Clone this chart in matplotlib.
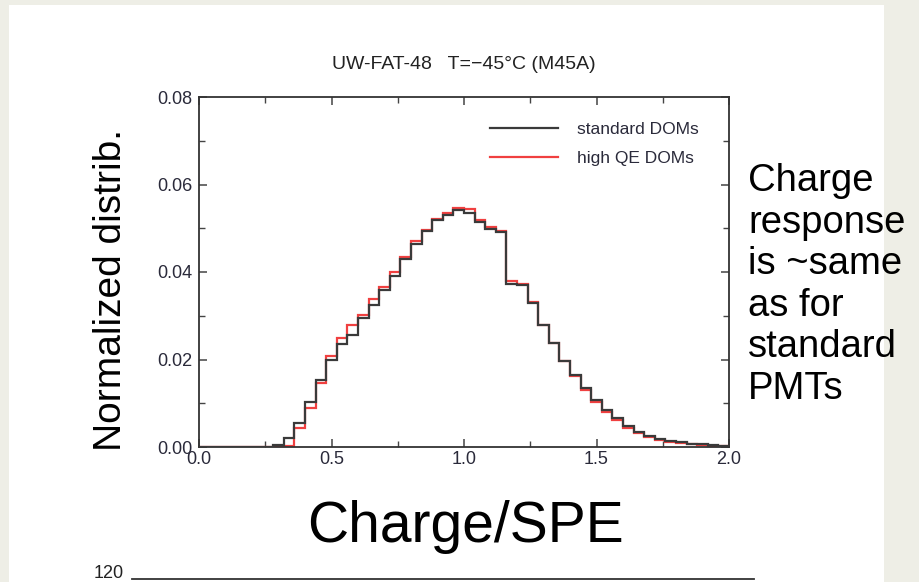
import numpy as np
import matplotlib
matplotlib.use('Agg')
import matplotlib.pyplot as plt
from matplotlib.patches import Rectangle
from matplotlib.lines import Line2D

plt.rcParams['font.family'] = ['Liberation Sans', 'DejaVu Sans']

# bin edges 0..2 in steps of 0.04
bin_edges = np.round(np.arange(0, 2.0001, 0.04), 2)

# standard DOMs (black)
standard = [0, 0, 0, 0, 0, 0, 0, 0.0005, 0.0020, 0.0054,
            0.0104, 0.0153, 0.0199, 0.0236, 0.0256, 0.0295, 0.0325, 0.0358, 0.0392, 0.0430,
            0.0465, 0.0493, 0.0518, 0.0531, 0.0541, 0.0536, 0.0515, 0.0498, 0.0492, 0.0373,
            0.0370, 0.0329, 0.0279, 0.0238, 0.0197, 0.0165, 0.0135, 0.0107, 0.0085, 0.0066,
            0.0048, 0.0035, 0.0026, 0.0018, 0.0014, 0.0011, 0.0008, 0.0006, 0.0004, 0.0002]

# high QE DOMs (red)
high_qe = [0, 0, 0, 0, 0, 0, 0, 0, 0.0003, 0.0043,
           0.0089, 0.0146, 0.0208, 0.0249, 0.0279, 0.0302, 0.0338, 0.0366, 0.0400, 0.0435,
           0.0470, 0.0497, 0.0522, 0.0535, 0.0547, 0.0545, 0.0518, 0.0503, 0.0494, 0.0380,
           0.0372, 0.0331, 0.0280, 0.0238, 0.0196, 0.0162, 0.0131, 0.0103, 0.0080, 0.0061,
           0.0044, 0.0032, 0.0023, 0.0016, 0.0012, 0.0009, 0.0006, 0.0004, 0.0003, 0.0002]

x_ticks = [0.0, 0.5, 1.0, 1.5, 2.0]
x_ticklabels = ['0.0', '0.5', '1.0', '1.5', '2.0']
y_ticks = [0.00, 0.02, 0.04, 0.06, 0.08]
y_ticklabels = ['0.00', '0.02', '0.04', '0.06', '0.08']

W, H = 919, 582
fig = plt.figure(figsize=(W / 100, H / 100), dpi=100)
fig.patch.set_facecolor('#eeeee6')
# white slide area
fig.add_artist(Rectangle((9 / W, 0), (884 - 9) / W, (582 - 5) / H,
                         transform=fig.transFigure, facecolor='white',
                         edgecolor='none', zorder=0))

ax = fig.add_axes([199 / W, 1 - 447 / H, 530 / W, 350 / H])
ax.set_facecolor('white')

ax.stairs(standard, bin_edges, color='#3a3a3a', lw=1.6, label='standard DOMs', zorder=3)
ax.stairs(high_qe, bin_edges, color='#f04040', lw=1.6, label='high QE DOMs', zorder=2)

ax.set_xlim(0, 2.0)
ax.set_ylim(0, 0.08)
ax.set_xticks(x_ticks)
ax.set_xticklabels(x_ticklabels)
ax.set_yticks(y_ticks)
ax.set_yticklabels(y_ticklabels)
ax.set_xticks(np.arange(0.25, 2.0, 0.5), minor=True)
ax.set_yticks(np.arange(0.01, 0.08, 0.02), minor=True)
ax.tick_params(which='both', direction='in', top=True, right=True,
               colors='#444444', labelcolor='#2a2a3a', labelsize=13)
ax.tick_params(which='major', length=6, width=1.1)
ax.tick_params(which='minor', length=4, width=1.0)
ax.tick_params(axis='x', pad=3)
ax.tick_params(axis='y', pad=5)
for sp in ax.spines.values():
    sp.set_color('#333333')
    sp.set_linewidth(1.3)

ax.set_title('UW-FAT-48   T=\u221245\u00b0C (M45A)', fontsize=14, color='#222222', pad=20)

leg = ax.legend(loc='upper left', bbox_to_anchor=(0.549, 0.93), frameon=False,
                fontsize=12.5, handlelength=3.9, handletextpad=1.1,
                labelspacing=0.8, borderpad=0, borderaxespad=0)
for t in leg.get_texts():
    t.set_color('#2a2a3a')

fig.text(111 / W, 1 - 290 / H, 'Normalized distrib.', rotation=90,
         fontsize=28, ha='center', va='center', color='black')
fig.text(466 / W, 1 - 527 / H, 'Charge/SPE', fontsize=41,
         ha='center', va='center', color='black')
fig.text(748 / W, 1 - 163 / H, 'Charge\nresponse\nis ~same\nas for\nstandard\nPMTs',
         fontsize=27.5, ha='left', va='top', linespacing=1.2, color='black')

# top edge of the next plot on the slide
fig.text(109 / W, 1 - 574 / H, '120', fontsize=13, ha='center', va='center', color='#222222')
fig.add_artist(Line2D([132 / W, 754 / W], [1 - 579 / H, 1 - 579 / H],
                      transform=fig.transFigure, color='#333333', lw=1.3))

fig.savefig('out.png', dpi=100, facecolor=fig.get_facecolor())
